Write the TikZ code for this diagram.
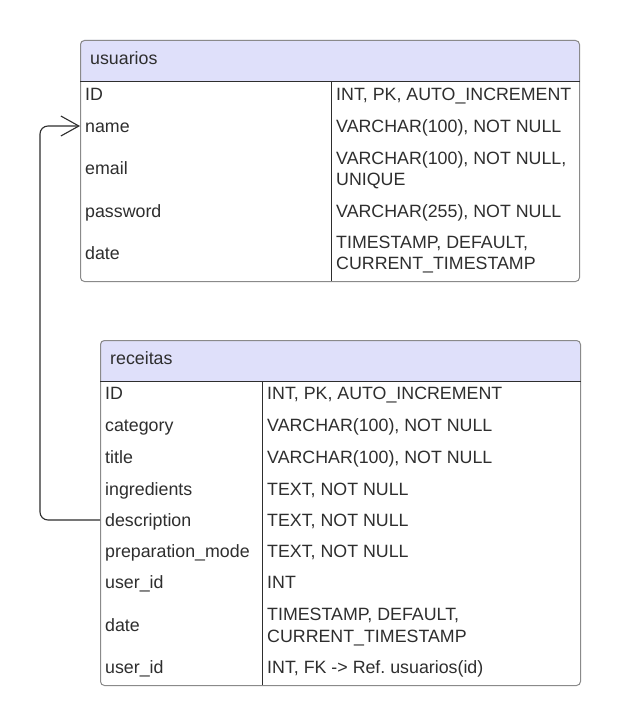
\documentclass[tikz,border=0pt]{standalone}
\usepackage{fontspec}
\setmainfont{Liberation Sans}
\usetikzlibrary{arrows.meta}
\definecolor{txt}{HTML}{2E2E2E}
\definecolor{hdr}{HTML}{DFE0FA}
\definecolor{brd}{HTML}{8A8A8A}
\frenchspacing
\begin{document}
\begin{tikzpicture}[x=1pt,y=-1pt,
  cell/.style={anchor=west,inner sep=0pt,text=txt,font=\fontsize{17.8}{20}\selectfont,text height=12.7pt,text depth=0pt},
  frame/.style={draw=brd,line width=1pt,rounded corners=4pt,anchor=north west,inner sep=0pt},
  inner/.style={draw=txt,line width=1pt},
  link/.style={draw=txt,line width=1.1pt,rounded corners=8pt}]
\useasboundingbox[fill=white] (0,0) rectangle (621,725);

% ---------- usuarios ----------
\fill[hdr] (80,81) [rounded corners=4pt] -- (80,40) -- (579,40) [sharp corners] -- (579,81) -- cycle;
\node[frame,minimum width=499pt,minimum height=241pt] (usu) at (80,40) {};
\draw[inner] (usu.west |- 0,81) -- (usu.east |- 0,81);
\draw[inner] (331,81) -- (331,281);
\node[cell] (usut) at (90,58) {usuarios};
\node[cell] (u1a) at (85,94) {ID};
\node[cell] (u1b) at (336,94) {INT, PK, AUTO\_INCREMENT};
\node[cell] (u2a) at (85,126) {name};
\node[cell] (u2b) at (336,126) {VARCHAR(100), NOT NULL};
\node[cell] (u3a) at (85,168) {email};
\node[cell] (u3b) at (336,158) {VARCHAR(100), NOT NULL,};
\node[cell] (u3c) at (336,179) {UNIQUE};
\node[cell] (u4a) at (85,211) {password};
\node[cell] (u4b) at (336,211) {VARCHAR(255), NOT NULL};
\node[cell] (u5a) at (85,253) {date};
\node[cell] (u5b) at (336,242) {TIMESTAMP, DEFAULT,};
\node[cell] (u5c) at (336,263) {CURRENT\_TIMESTAMP};

% ---------- receitas ----------
\fill[hdr] (100,381) [rounded corners=4pt] -- (100,340) -- (580,340) [sharp corners] -- (580,381) -- cycle;
\node[frame,minimum width=480pt,minimum height=345pt] (rec) at (100,340) {};
\draw[inner] (rec.west |- 0,381) -- (rec.east |- 0,381);
\draw[inner] (262,381) -- (262,685);
\node[cell] (rect) at (110,358) {receitas};
\node[cell] (r1a) at (105,393) {ID};
\node[cell] (r1b) at (267,393) {INT, PK, AUTO\_INCREMENT};
\node[cell] (r2a) at (105,425) {category};
\node[cell] (r2b) at (267,425) {VARCHAR(100), NOT NULL};
\node[cell] (r3a) at (105,457) {title};
\node[cell] (r3b) at (267,457) {VARCHAR(100), NOT NULL};
\node[cell] (r4a) at (105,489) {ingredients};
\node[cell] (r4b) at (267,489) {TEXT, NOT NULL};
\node[cell] (r5a) at (105,520) {description};
\node[cell] (r5b) at (267,520) {TEXT, NOT NULL};
\node[cell] (r6a) at (105,551) {preparation\_mode};
\node[cell] (r6b) at (267,551) {TEXT, NOT NULL};
\node[cell] (r7a) at (105,582) {user\_id};
\node[cell] (r7b) at (267,582) {INT};
\node[cell] (r8a) at (105,625) {date};
\node[cell] (r8b) at (267,614) {TIMESTAMP, DEFAULT,};
\node[cell] (r8c) at (267,636) {CURRENT\_TIMESTAMP};
\node[cell] (r9a) at (105,667) {user\_id};
\node[cell] (r9b) at (267,667) {INT, FK -> Ref. usuarios(id)};

% ---------- connector ----------
\draw[link,-{Straight Barb[length=18pt,width=20pt,line width=1.1pt]}]
  (rec.west |- r5a.west) -- ++(-60,0) |- (usu.west |- u2a.west);
\end{tikzpicture}
\end{document}
